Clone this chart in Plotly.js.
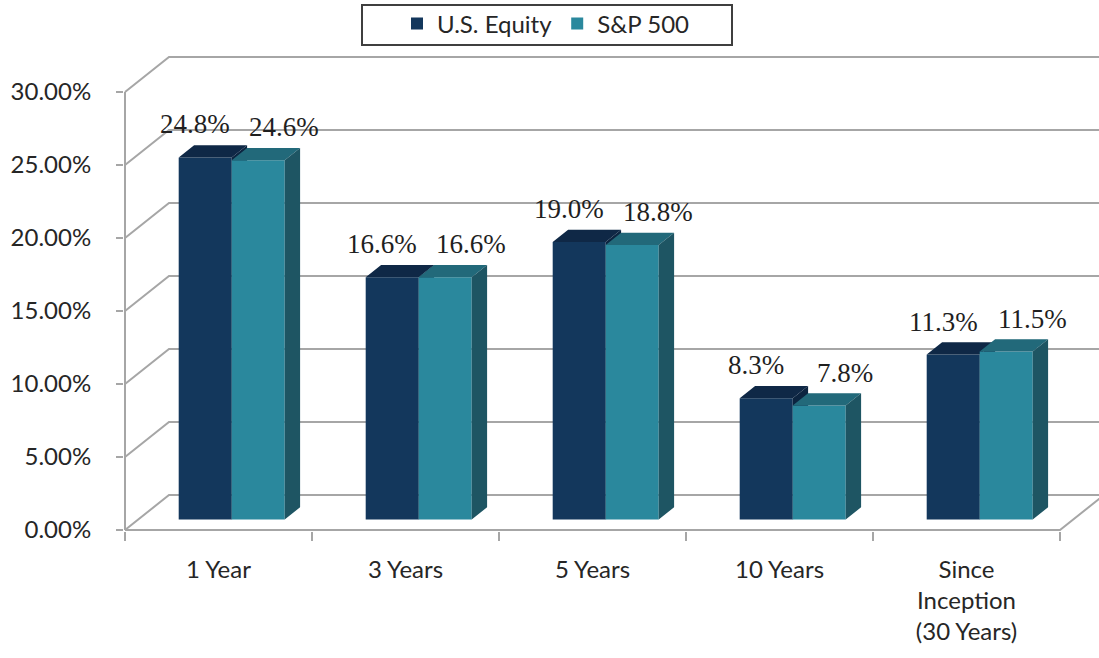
<!DOCTYPE html>
<html>
<head>
<meta charset="utf-8">
<script src="https://cdn.plot.ly/plotly-3.0.1.min.js"></script>
<style>html,body{margin:0;padding:0;background:#fff;}#chart{width:1099px;height:658px;}</style>
</head>
<body>
<div id="chart"></div>
<script>
// ---- data ----
const categories = ['1 Year', '3 Years', '5 Years', '10 Years', 'Since<br>Inception<br>(30 Years)'];
const usEquity = [24.8, 16.6, 19.0, 8.3, 11.3];
const sp500 = [24.6, 16.6, 18.8, 7.8, 11.5];
const seriesNames = ['U.S. Equity', 'S&P 500'];
const yTicks = [0, 5, 10, 15, 20, 25, 30];
const yTickText = yTicks.map(t => t.toFixed(2) + '%');

// ---- geometry / style (pixel-based pseudo 3D) ----
const W = 1099, H = 658;
const ML = 124, MR = 0, MT = 40, MB = 127;
const PX = 187, PY = 14.6;           // px per category unit, px per percent
const DX = 44 / PX, DY = 35 / PY;    // wall depth in data units
const F1 = 0.30, F2 = 0.65;          // bar front/back depth fraction
const BW = 53 / PX;                  // bar width
const X0 = -0.5, X1 = categories.length - 0.5;
const xRange = [X0 - 1 / PX, X0 - 1 / PX + (W - ML - MR) / PX];
const yRange = [-1 / PY, -1 / PY + (H - MT - MB) / PY];
const BASE = F1 * DY;
const ddx = (F2 - F1) * DX, ddy = (F2 - F1) * DY;
const gridColor = '#a6a6a6';
const colors = {
  dark: {front: '#13375c', top: '#0f2846', side: '#0c2440'},
  teal: {front: '#2a889d', top: '#22697a', side: '#1e5563'}
};

const idx = categories.map((c, i) => i);
const groupCenter = idx.map(i => i + F1 * DX);
const darkX = groupCenter.map(c => c - BW / 2);
const tealX = groupCenter.map(c => c + BW / 2);

// grid/walls
const gx = [], gy = [];
yTicks.forEach(t => {
  gx.push(X0, X0 + DX, X1 + DX, null);
  gy.push(t, t + DY, t + DY, null);
});
gx.push(X0, X0, null, X0, X1, X1 + DX, null);
gy.push(0, yTicks[yTicks.length - 1], null, 0, 0, DY, null);

function faces(centers, vals) {
  const top = {x: [], y: []}, side = {x: [], y: []};
  centers.forEach((c, i) => {
    const xl = c - BW / 2, xr = c + BW / 2, T = vals[i] + BASE;
    top.x.push(xl, xr, xr + ddx, xl + ddx, xl, null);
    top.y.push(T, T, T + ddy, T + ddy, T, null);
    side.x.push(xr, xr + ddx, xr + ddx, xr, xr, null);
    side.y.push(BASE, BASE + ddy, T + ddy, T, BASE, null);
  });
  return {top, side};
}
const dF = faces(darkX, usEquity);
const tF = faces(tealX, sp500);

function polyTrace(p, color, xa, ya) {
  return {type: 'scatter', mode: 'lines', x: p.x, y: p.y, fill: 'toself', fillcolor: color,
    line: {width: 0, color: color}, hoverinfo: 'skip', showlegend: false, xaxis: xa, yaxis: ya};
}

const traces = [
  {type: 'scatter', mode: 'lines', x: gx, y: gy, line: {color: gridColor, width: 2},
   hoverinfo: 'skip', showlegend: false, xaxis: 'x', yaxis: 'y'},
  {type: 'bar', name: seriesNames[0], x: darkX, y: usEquity, base: BASE, width: BW,
   marker: {color: colors.dark.front, line: {width: 0}}, xaxis: 'x2', yaxis: 'y2'},
  polyTrace(dF.side, colors.dark.side, 'x2', 'y2'),
  polyTrace(dF.top, colors.dark.top, 'x2', 'y2'),
  {type: 'bar', name: seriesNames[1], x: tealX, y: sp500, base: BASE, width: BW,
   marker: {color: colors.teal.front, line: {width: 0}}, xaxis: 'x3', yaxis: 'y3'},
  polyTrace(tF.top, colors.teal.top, 'x3', 'y3'),
  polyTrace(tF.side, colors.teal.side, 'x3', 'y3')
];

const labelFont = {family: 'Liberation Serif, Times New Roman, serif', size: 27, color: '#1f1f1f'};
const annotations = [];
usEquity.forEach((v, i) => annotations.push({x: darkX[i], y: v + BASE, xref: 'x', yref: 'y',
  text: v.toFixed(1) + '%', showarrow: false, yanchor: 'bottom', xanchor: 'center', yshift: 16, xshift: -10, font: labelFont}));
sp500.forEach((v, i) => annotations.push({x: tealX[i], y: v + BASE, xref: 'x', yref: 'y',
  text: v.toFixed(1) + '%', showarrow: false, yanchor: 'bottom', xanchor: 'center', yshift: 16, xshift: 26, font: labelFont}));

// legend frame (pixel box converted to paper coords)
const px2paperX = p => (p - ML) / (W - ML - MR);
const px2paperY = p => (H - MB - p) / (H - MT - MB);
const shapes = [{type: 'rect', xref: 'paper', yref: 'paper',
  x0: px2paperX(362), x1: px2paperX(732), y0: px2paperY(45), y1: px2paperY(5),
  line: {color: '#3f3f3f', width: 2}, fillcolor: 'rgba(0,0,0,0)', layer: 'above'}];

const axFont = {family: 'Lato, Calibri, sans-serif', size: 24, color: '#262626'};
const layout = {
  width: W, height: H,
  margin: {l: ML, r: MR, t: MT, b: MB, autoexpand: false},
  paper_bgcolor: '#fff', plot_bgcolor: 'rgba(0,0,0,0)',
  barmode: 'overlay',
  showlegend: true,
  legend: {orientation: 'h', xref: 'container', yref: 'container', x: 546 / W, y: 1 - 24 / H,
    xanchor: 'center', yanchor: 'middle', font: axFont, bgcolor: 'rgba(0,0,0,0)', borderwidth: 0},
  xaxis: {range: xRange, tickmode: 'array', tickvals: idx, ticktext: categories, ticks: '',
    showgrid: false, zeroline: false, showline: false, tickfont: axFont, ticklabelstandoff: 22, fixedrange: true},
  yaxis: {range: yRange, tickmode: 'array', tickvals: yTicks, ticktext: yTickText,
    ticks: 'outside', ticklen: 7, tickwidth: 2, tickcolor: gridColor, showgrid: false, zeroline: false,
    showline: false, tickfont: axFont, ticklabelstandoff: 20, fixedrange: true},
  xaxis2: {range: xRange, overlaying: 'x', anchor: 'y2', tickmode: 'array',
    tickvals: idx.map(i => i - 0.5).concat([X1]), showticklabels: false, ticks: 'outside',
    ticklen: 9, tickwidth: 2, tickcolor: gridColor, showgrid: false, zeroline: false, showline: false, fixedrange: true},
  yaxis2: {range: yRange, overlaying: 'y', anchor: 'x2', visible: false, fixedrange: true},
  xaxis3: {range: xRange, overlaying: 'x', anchor: 'y3', visible: false, fixedrange: true},
  yaxis3: {range: yRange, overlaying: 'y', anchor: 'x3', visible: false, fixedrange: true},
  annotations: annotations,
  shapes: shapes
};

Plotly.newPlot('chart', traces, layout, {displayModeBar: false, staticPlot: true});
</script>
</body>
</html>
